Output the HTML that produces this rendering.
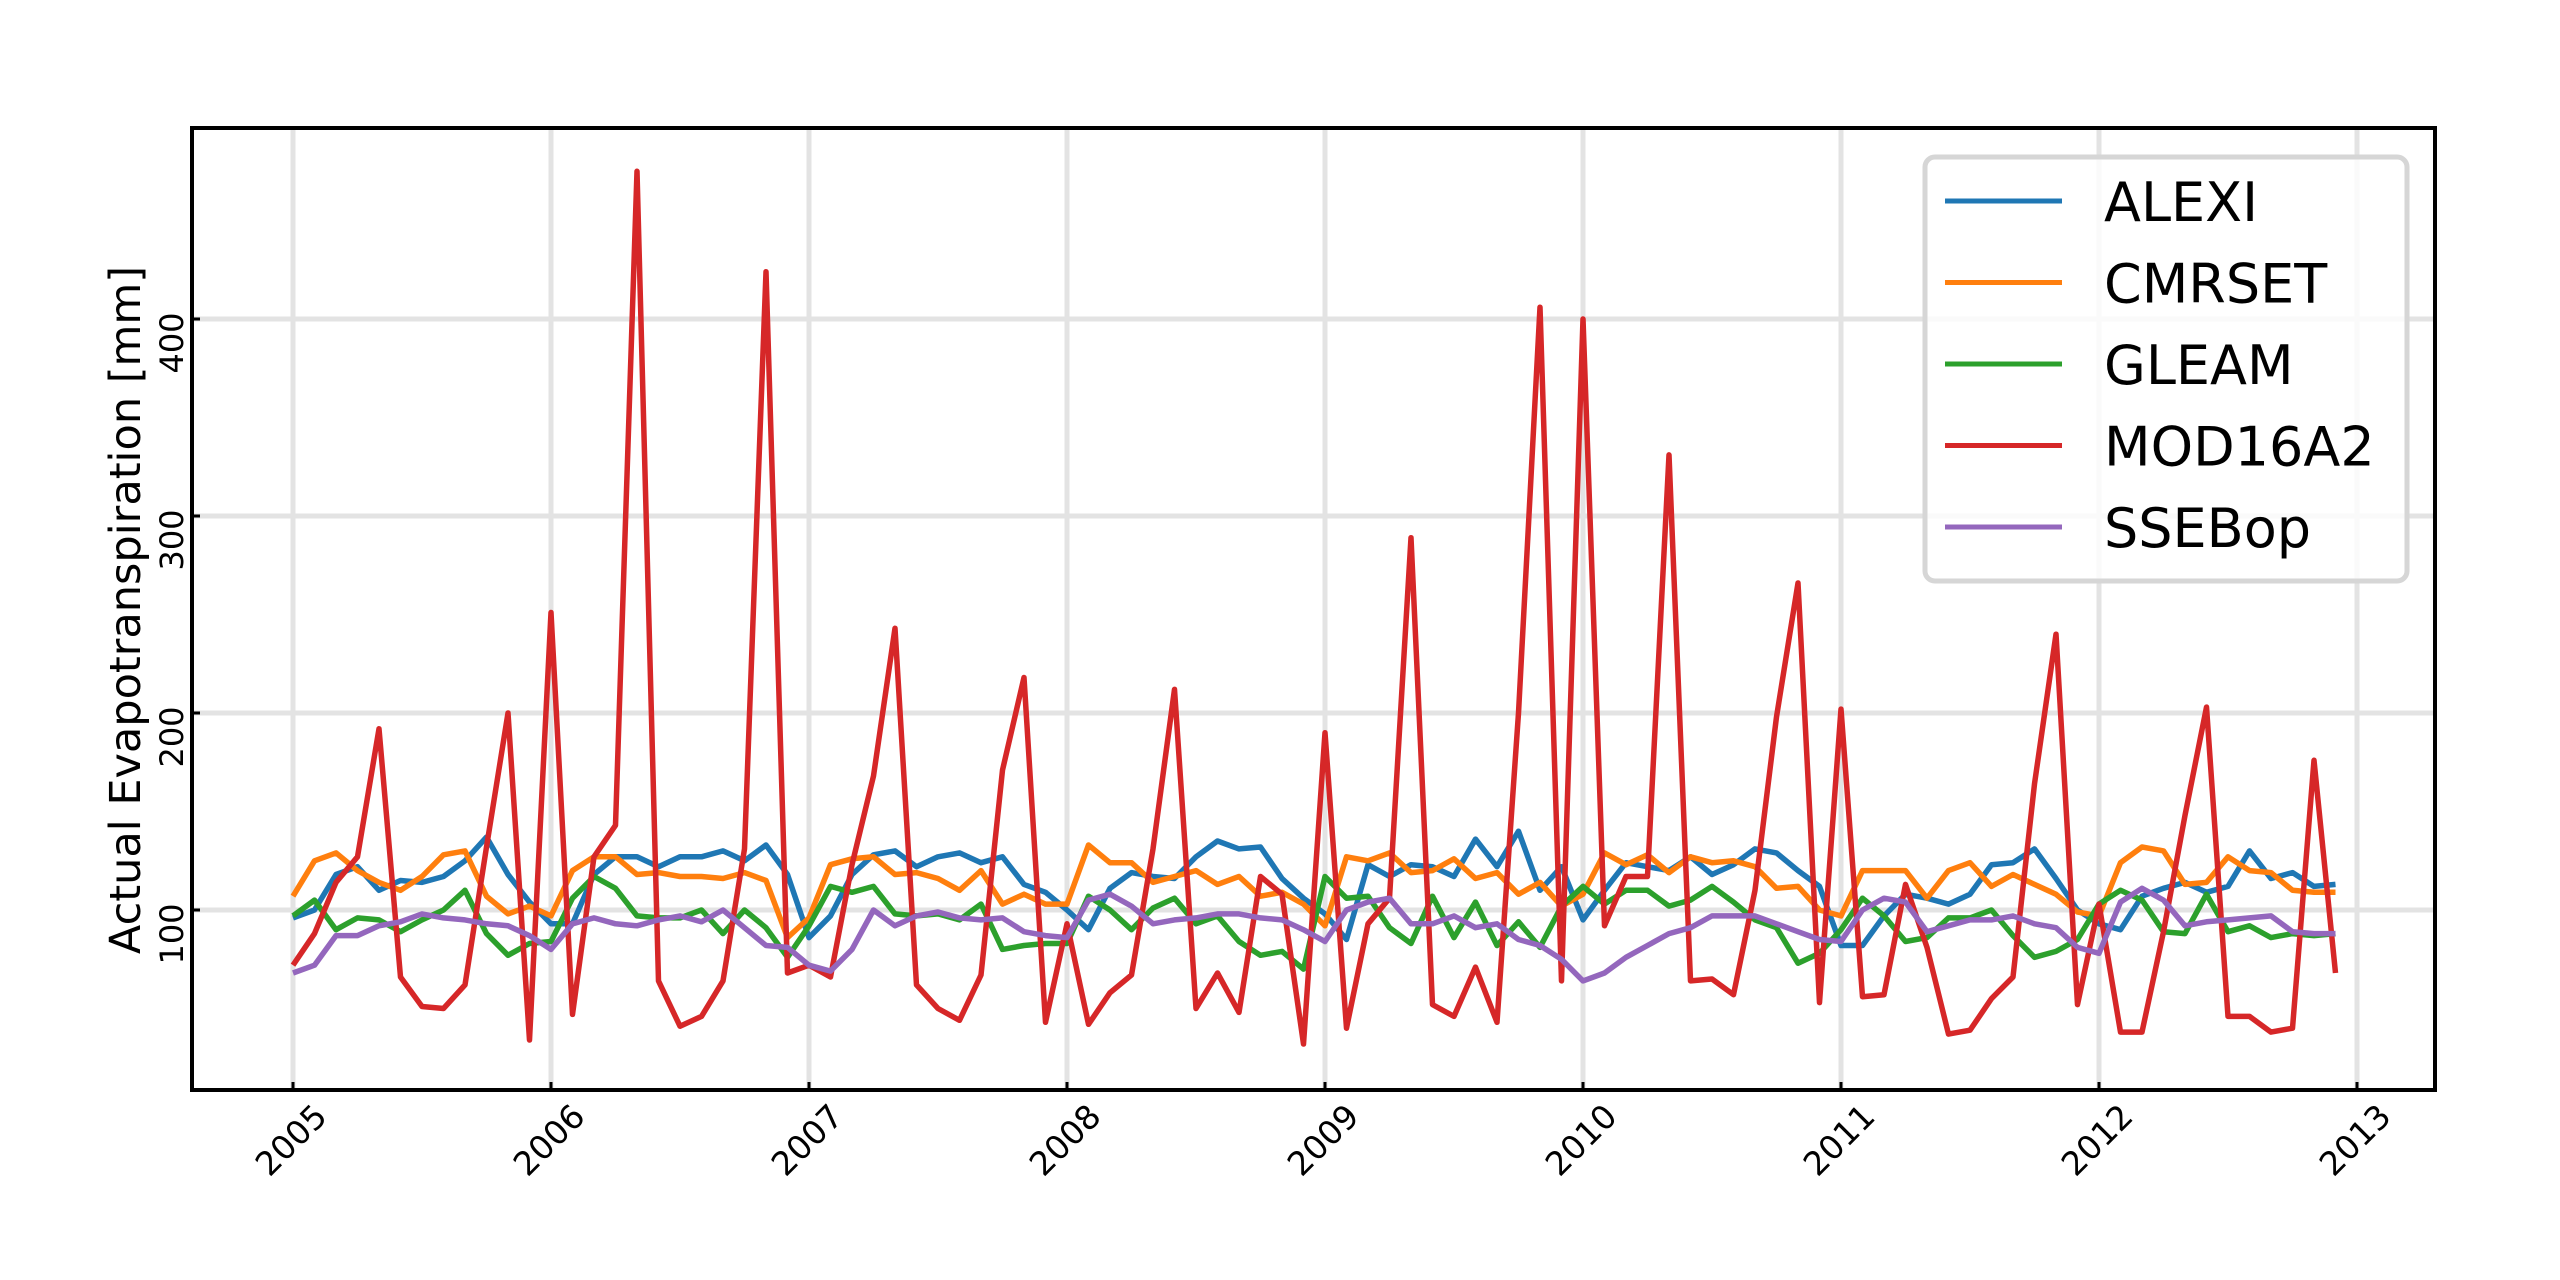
<!DOCTYPE html>
<html><head><meta charset="utf-8"><style>
html,body{margin:0;padding:0;background:#fff;}
svg{display:block;font-family:"DejaVu Sans","Liberation Sans",sans-serif;}
</style></head><body>
<svg id="chart" width="2560" height="1280" viewBox="0 0 2560 1280" xmlns="http://www.w3.org/2000/svg">
<rect width="2560" height="1280" fill="#fff"/>
<g id="grid"></g>
<g id="series"></g>
<rect x="192" y="128" width="2243" height="962" fill="none" stroke="#000" stroke-width="4"/>
<g id="ticks"></g>
<text transform="translate(140,610) rotate(-90)" text-anchor="middle" font-size="43">Actual Evapotranspiration [mm]</text>
<g>
<rect x="1925" y="157" width="482" height="424" rx="10" fill="rgba(255,255,255,0.8)" stroke="#d6d6d6" stroke-width="5"/>
<g id="legend-entries"></g>
</g>
</svg>
<script>
const categories = ["ALEXI","CMRSET","GLEAM","MOD16A2","SSEBop"];
const colors = ["#1f77b4","#ff7f0e","#2ca02c","#d62728","#9467bd"];
const startYear = 2005;
const xTickLabels = [2005,2006,2007,2008,2009,2010,2011,2012,2013];
const yTickLabels = [100,200,300,400];
const alexi = [96,100,118,122,110,115,114,117,125,137,118,104,93,93,118,127,127,122,127,127,130,125,133,118,86,97,118,128,130,122,127,129,124,127,113,109,100,90,111,119,117,116,127,135,131,132,116,106,98,85,123,117,123,122,117,136,122,140,110,122,95,110,124,122,120,127,118,123,131,129,120,112,82,82,97,108,106,103,108,123,124,131,116,100,93,90,107,111,114,109,112,130,116,119,112,113];
const cmrset = [107,125,129,120,114,110,117,128,130,107,98,102,97,120,127,127,118,119,117,117,116,119,115,86,96,123,126,127,118,119,116,110,120,103,108,103,103,133,124,124,114,117,120,113,117,107,109,103,92,127,125,129,119,120,126,116,119,108,114,102,108,129,123,128,119,127,124,125,122,111,112,100,97,120,120,120,106,120,124,112,118,113,108,99,97,124,132,130,113,114,127,120,119,110,109,109];
const gleam = [97,105,90,96,95,89,95,100,110,88,77,83,84,106,117,111,97,96,96,100,88,100,91,76,92,112,109,112,98,97,98,95,103,80,82,83,83,107,100,90,101,106,93,97,84,77,79,70,117,106,107,91,83,107,86,104,82,94,81,102,112,103,110,110,102,105,112,104,95,91,73,78,90,106,97,84,86,96,96,100,87,76,79,85,103,110,105,89,88,108,89,92,86,88,87,88];
const mod16a2 = [72,88,114,127,192,66,51,50,62,132,200,34,251,47,127,143,475,64,41,46,64,131,424,68,72,66,123,168,243,62,50,44,67,171,218,43,93,42,58,67,131,212,50,68,48,117,108,32,190,40,93,106,289,52,46,71,43,200,406,64,400,92,117,117,331,64,65,57,110,198,266,53,202,56,57,113,81,37,39,55,66,164,240,52,103,38,38,89,148,203,46,46,38,40,176,68];
const ssebop = [68,72,87,87,92,94,98,96,95,93,92,87,80,93,96,93,92,95,97,94,100,91,82,81,72,69,80,100,92,97,99,96,95,96,89,87,86,105,108,102,93,95,96,98,98,96,95,90,84,100,104,106,93,93,97,91,93,85,82,75,64,68,76,82,88,91,97,97,97,93,89,85,84,100,106,104,89,92,95,95,97,93,91,81,78,104,111,105,92,94,95,96,97,89,88,88];
const seriesValues = [alexi,cmrset,gleam,mod16a2,ssebop];

const NS="http://www.w3.org/2000/svg";
function xScale(t){return 293+(t-startYear)*258;}
function yScale(v){return 910-(v-100)*1.97;}
function mk(tag,attrs,parent){const e=document.createElementNS(NS,tag);for(const k in attrs)e.setAttribute(k,attrs[k]);parent.appendChild(e);return e;}
const grid=document.getElementById('grid'),ticks=document.getElementById('ticks'),ser=document.getElementById('series'),leg=document.getElementById('legend-entries');
xTickLabels.forEach(yr=>{
  const x=xScale(yr);
  const g=mk('line',{x1:x,x2:x,y1:128,y2:1090,stroke:'#e3e3e3','stroke-width':5},grid);
  
  
  const t=mk('line',{x1:x,x2:x,y1:1090,y2:1082,stroke:'#000','stroke-width':3},ticks);
  
  
  const l=mk('text',{transform:`translate(${x-2},${1140}) rotate(-45)`,'text-anchor':'middle','dominant-baseline':'central','font-size':33},ticks);
  l.textContent=yr;
  
  
});
yTickLabels.forEach(v=>{
  const y=yScale(v);
  const g=mk('line',{x1:192,x2:2435,y1:y,y2:y,stroke:'#e3e3e3','stroke-width':5},grid);
  
  
  const t=mk('line',{x1:192,x2:200,y1:y,y2:y,stroke:'#000','stroke-width':3},ticks);
  
  
  const l=mk('text',{transform:`translate(172,${y+24}) rotate(-90)`,'text-anchor':'middle','dominant-baseline':'central','font-size':32},ticks);
  l.textContent=v;
  
  
});
seriesValues.forEach((vals,i)=>{
  const pts=vals.map((v,m)=>xScale(startYear+m/12).toFixed(1)+','+yScale(v).toFixed(1)).join(' ');
  const p=mk('polyline',{points:pts,fill:'none',stroke:colors[i],'stroke-width':5.5,'stroke-linejoin':'round'},ser);
  
  
  const y=201+i*81.5;
  const ln=mk('line',{x1:1945,x2:2062,y1:y,y2:y,stroke:colors[i],'stroke-width':5},leg);
  
  
  const tx=mk('text',{x:2104,y:y+20,'font-size':54},leg);
  tx.textContent=categories[i];
  
  
});
</script>
</body></html>
